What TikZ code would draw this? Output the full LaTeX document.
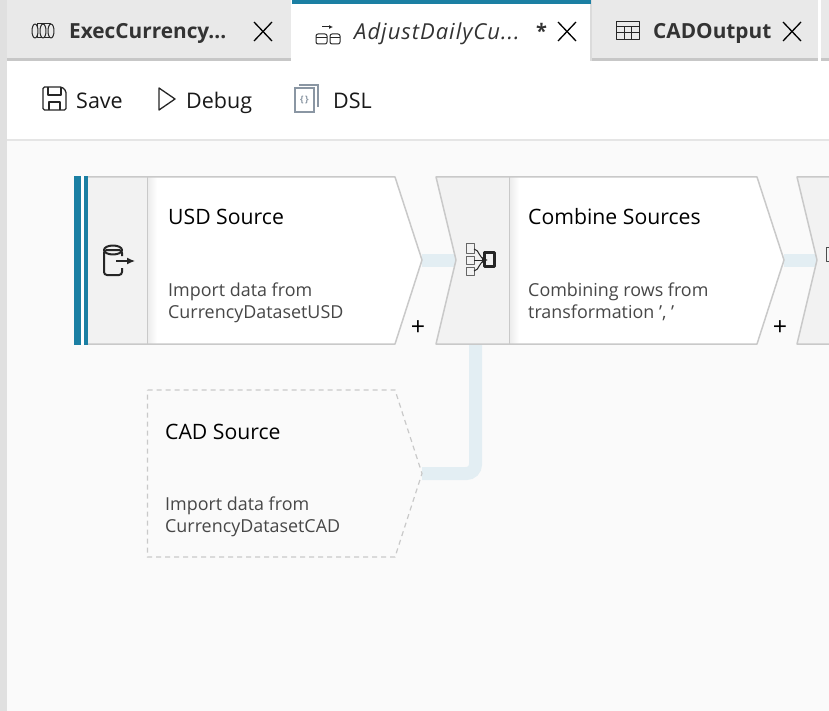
\documentclass[tikz,border=0pt]{standalone}
\usepackage{fontspec}
\setmainfont{Open Sans}
\usetikzlibrary{positioning, calc, arrows.meta}
\definecolor{adfteal}{HTML}{1B7FA3}
\definecolor{adfline}{HTML}{C9C9C9}
\definecolor{adfcell}{HTML}{F2F2F2}
\definecolor{adflink}{HTML}{E3EEF3}
\definecolor{adftab}{HTML}{E9E9E9}
\definecolor{adfcanvas}{HTML}{FAFAFA}
\definecolor{adfdsl}{HTML}{8A96A3}
\tikzset{
  tabtext/.style={anchor=base west, inner sep=0pt, font=\fontsize{20.8}{24}\selectfont\bfseries, text=black!80},
  tooltext/.style={anchor=base west, inner sep=0pt, font=\fontsize{21.5}{25}\selectfont, text=black!90},
  titletext/.style={anchor=base west, inner sep=0pt, font=\fontsize{21.2}{24}\selectfont, text=black},
  desctext/.style={anchor=north west, inner sep=0pt, align=left, font=\fontsize{17.9}{22}\selectfont, text=black!72},
  plussign/.style={inner sep=0pt, font=\fontsize{25}{25}\selectfont, text=black},
  nodeedge/.style={draw=adfline, line width=1.5pt, line join=round},
  tabedge/.style={fill=adftab},
  link/.style={draw=adflink, line width=13pt, rounded corners=9pt},
  icon/.style={draw=black!85, line width=1.4pt, line join=round},
  closex/.style={draw=black, line width=1.3pt}
}
\begin{document}
\begin{tikzpicture}[x=1pt,y=-1pt]
  \useasboundingbox (0,0) rectangle (829,711);
  % Page and canvas
  \fill[white] (0,0) rectangle (829,711);
  \fill[adfcanvas] (7,141) rectangle (829,711);
  \fill[black!12] (0,0) rectangle (7,711);
  \fill[black!10] (7,139) rectangle (829,141);

  % Tabs
  \fill[tabedge] (7,0) rectangle (291,60);
  \fill[black!22] (7,58) rectangle (291,61);
  \fill[tabedge] (592,0) rectangle (818,60);
  \fill[black!22] (590,58) rectangle (818,61);
  \fill[black!14] (590,0) rectangle (592,61);
  \fill[tabedge] (821,0) rectangle (829,60);
  \fill[black!22] (821,58) rectangle (829,61);
  \fill[adfteal] (292,0) rectangle (591,4);

  \node[tabtext] (tabexec) at (69,39) {ExecCurrency...};
  \node[tabtext, font=\fontsize{22}{24}\selectfont\itshape\addfontfeature{LetterSpace=4.5}] (tabadjust) at (354,40) {AdjustDailyCu...};
  \node[tabtext, font=\fontsize{20}{24}\selectfont\bfseries] (tabstar) at (536,39) {*};
  \node[tabtext] (tabcad) at (653,39) {CADOutput};

  \draw[closex] (254,22) -- (272,41) (272,22) -- (254,41);
  \draw[closex] (558,22) -- (576,41) (576,22) -- (558,41);
  \draw[closex] (783,22) -- (801,41) (801,22) -- (783,41);

  % Tab icons
  \draw[icon, line width=1pt] (37,24) rectangle (50,38);
  \draw[icon, line width=1pt, fill=adftab] (35,31) ellipse (3 and 7);
  \draw[icon, line width=1pt, fill=adftab] (43,31) ellipse (3 and 7);
  \draw[icon, line width=1pt, fill=adftab] (51,31) ellipse (3 and 7);
  \draw[icon, line width=1pt, rounded corners=2pt] (316,34) rectangle (327,44);
  \draw[icon, line width=1pt] (316,38) -- (327,38);
  \draw[icon, line width=1pt, rounded corners=2pt] (330,34) rectangle (340,44);
  \draw[icon, line width=1pt] (330,38) -- (340,38);
  \draw[icon, line width=1pt, -{Latex[length=4pt,width=4pt]}] (322,27) -- (333,27);
  \draw[icon, line width=1pt] (616,22) rectangle (639,40);
  \draw[icon, line width=1pt] (616,27) -- (639,27) (616,33) -- (639,33) (624,27) -- (624,40) (631,27) -- (631,40);

  % Toolbar
  \node[tooltext] (save) at (76,109) {Save};
  \node[tooltext] (debug) at (186,109) {Debug};
  \node[tooltext] (dsl) at (333,109) {DSL};
  \draw[icon, line width=1.3pt, rounded corners=1.5pt] (43,87) -- (62,87) -- (66,91) -- (66,110) -- (43,110) -- cycle;
  \draw[icon, line width=1.3pt] (48,87) -- (48,95) -- (61,95) -- (61,87) (49,110) -- (49,102) -- (60,102) -- (60,110);
  \draw[icon, line width=1.3pt] (159,88) -- (175,99) -- (159,110) -- cycle;
  \draw[draw=adfdsl, line width=1.3pt] (299,85) -- (318,85) -- (318,107);
  \draw[draw=adfdsl, line width=1.3pt, fill=white] (295,88) rectangle (314,112);
  \node[inner sep=0pt, font=\fontsize{9}{9}\selectfont\bfseries, text=adfdsl] (dslicon) at (304.5,100) {\{\,\}};

  % Links between the nodes
  \coordinate (usdtip) at (422,260);
  \coordinate (combinenotch) at (456,260);
  \coordinate (combinetip) at (784,260);
  \coordinate (nextnotch) at (817,260);
  \coordinate (cadtip) at (422,473.5);
  \coordinate (combinefoot) at (475.5,344);
  \draw[link] (usdtip) -- (combinenotch);
  \draw[link] (combinetip) -- (nextnotch);
  \draw[link] (cadtip) -| (combinefoot);

  % USD source
  \fill[white] (148,177) -- (395,177) -- (usdtip) -- (395,344) -- (148,344) -- cycle;
  \fill[adfcell] (88,177) rectangle (148,344);
  \shade[left color=black!7, right color=white] (148,178) rectangle (157,343);
  \draw[nodeedge] (74,177) -- (395,177) -- (usdtip) -- (395,344) -- (74,344);
  \draw[nodeedge] (147.5,177) -- (147.5,344);
  \fill[adfteal] (74,176.5) rectangle (81,344.5);
  \fill[white] (81,176.5) rectangle (84,344.5);
  \fill[adfteal] (84,176.5) rectangle (88,344.5);
  \node[titletext] (usdtitle) at (168,225) {USD Source};
  \node[desctext] (usddesc) at (168,283) {Import data from\\CurrencyDatasetUSD};
  \node[plussign] (usdplus) at (418,328) {+};
  \draw[icon, line width=2pt, rounded corners=3pt] (122,256) -- (122,250) -- (104,250) -- (104,275) -- (122,275) -- (122,268);
  \draw[icon, line width=2pt] (113,250) ellipse (9 and 4.5);
  \draw[icon, line width=1.3pt, -{Latex[length=8pt,width=7pt]}] (116,261) -- (135,261);

  % Combine sources
  \fill[white] (510,177) -- (757,177) -- (combinetip) -- (757,344) -- (510,344) -- cycle;
  \fill[adfcell] (436,177) -- (510,177) -- (510,344) -- (436,344) -- (combinenotch) -- cycle;
  \shade[left color=black!7, right color=white] (510,178) rectangle (519,343);
  \draw[nodeedge] (510,177) -- (436,177) -- (combinenotch) -- (436,344) -- (510,344);
  \draw[nodeedge] (509.5,177) -- (509.5,344);
  \draw[nodeedge] (510,177) -- (757,177) -- (combinetip) -- (757,344) -- (510,344);
  \node[titletext] (combinetitle) at (528,225) {Combine Sources};
  \node[desctext] (combinedesc) at (528,283) {Combining rows from\\transformation ', '};
  \node[plussign] (combineplus) at (780,328) {+};
  \draw[icon, line width=1pt, draw=black!60] (466,244) rectangle (474,253) (466,256) rectangle (474,264) (466,267) rectangle (474,275);
  \draw[icon, line width=1pt] (474,249) .. controls (480,250) and (478,258) .. (486,260);
  \draw[icon, line width=1pt] (474,271) .. controls (480,270) and (478,262) .. (486,260);
  \draw[icon, line width=1pt, -{Latex[length=6pt,width=6pt]}] (474,260) -- (488,260);
  \draw[icon, line width=2.2pt] (484.5,252.5) rectangle (494.5,266.5);

  % Next step, cut off by the edge
  \fill[adfcell] (829,177) -- (797,177) -- (nextnotch) -- (797,344) -- (829,344) -- cycle;
  \draw[nodeedge] (829,177) -- (797,177) -- (nextnotch) -- (797,344) -- (829,344);
  \draw[icon, line width=1pt, draw=black!70] (826,247) -- (826,261) -- (829,261) (826,247) -- (829,247);

  % CAD source
  \draw[draw=adfline, line width=1.2pt, dash pattern=on 5pt off 4pt] (147.5,390) -- (395,390) -- (cadtip) -- (395,557) -- (147.5,557) -- cycle;
  \node[titletext] (cadtitle) at (165,439) {CAD Source};
  \node[desctext] (caddesc) at (165,497) {Import data from\\CurrencyDatasetCAD};
\end{tikzpicture}
\end{document}
